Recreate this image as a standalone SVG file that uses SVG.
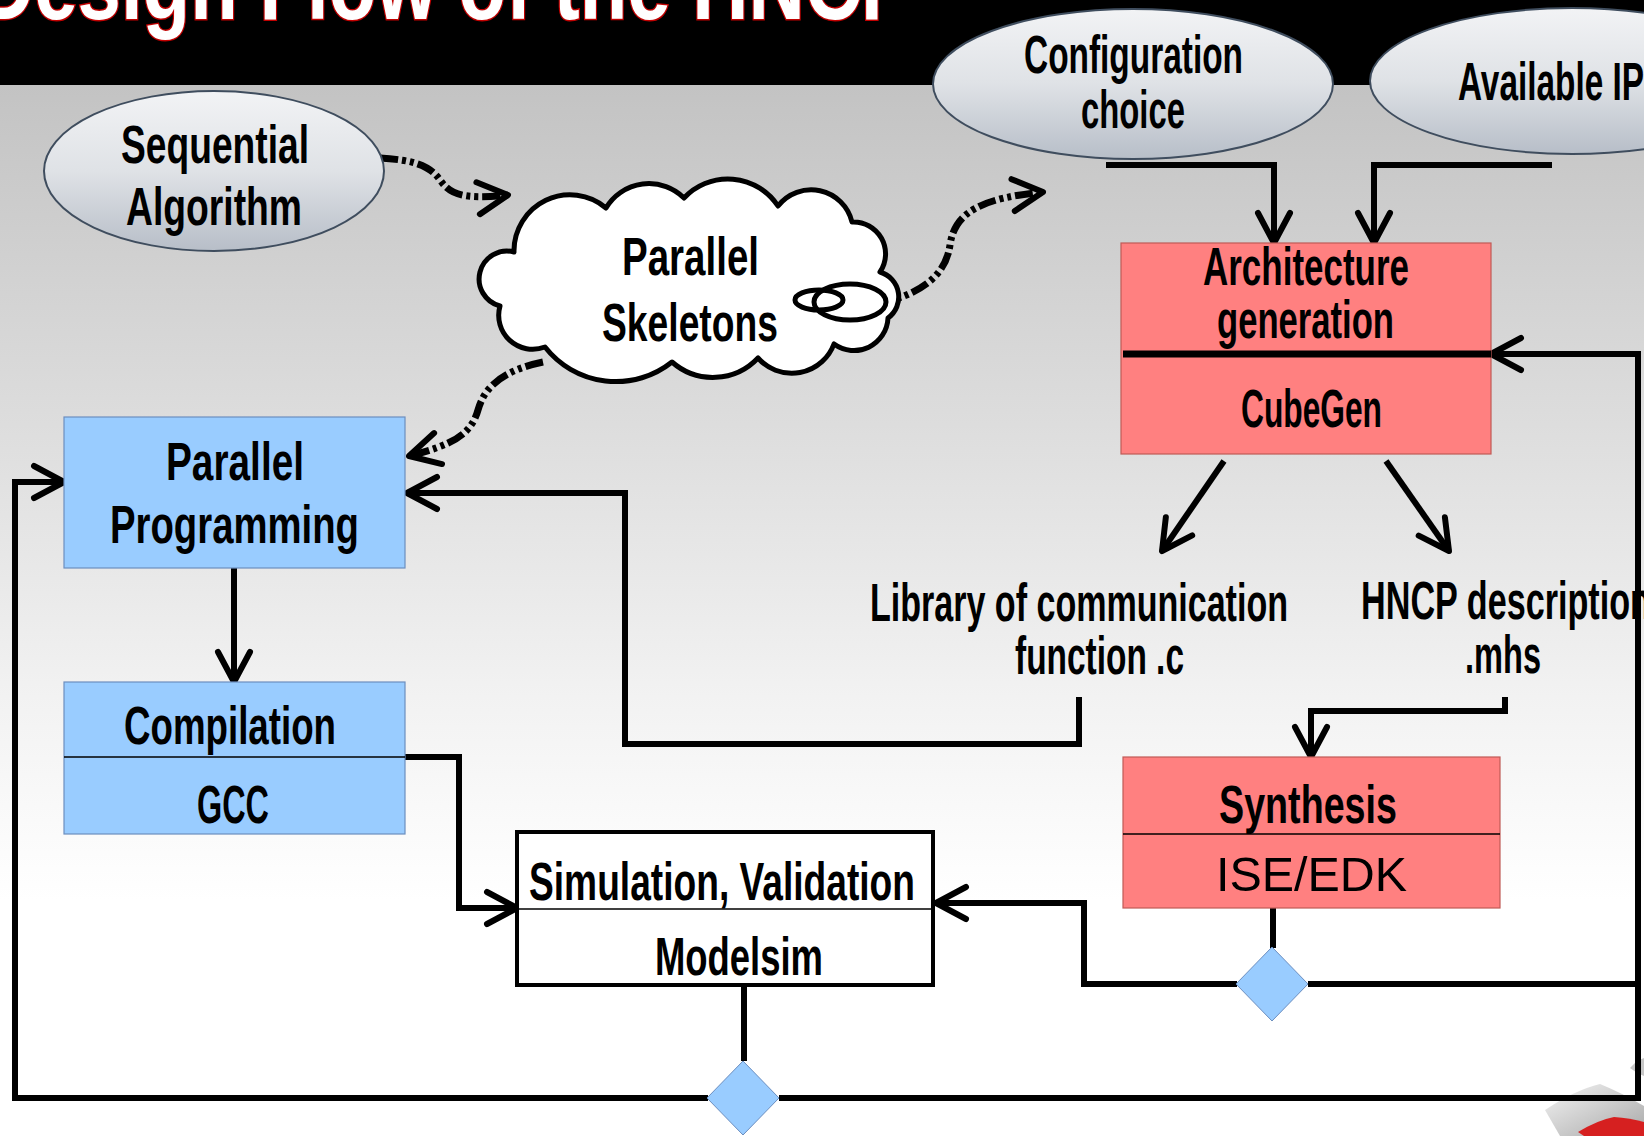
<svg xmlns="http://www.w3.org/2000/svg" width="1644" height="1136" viewBox="0 0 1644 1136">
  <defs>
    <linearGradient id="bg" gradientUnits="userSpaceOnUse" x1="0" y1="85" x2="0" y2="900">
      <stop offset="0" stop-color="#c3c3c3"/>
      <stop offset="0.4" stop-color="#dcdcdc"/>
      <stop offset="0.75" stop-color="#f2f2f2"/>
      <stop offset="1" stop-color="#ffffff"/>
    </linearGradient>
    <linearGradient id="oval" x1="0" y1="0" x2="0" y2="1">
      <stop offset="0" stop-color="#f2f3f5"/>
      <stop offset="0.5" stop-color="#dfe2e6"/>
      <stop offset="1" stop-color="#b7bec8"/>
    </linearGradient>
    <linearGradient id="fig" x1="0" y1="0" x2="1" y2="1">
      <stop offset="0" stop-color="#f4f4f4"/>
      <stop offset="1" stop-color="#a9a9a9"/>
    </linearGradient>
    <marker id="arr" markerUnits="userSpaceOnUse" markerWidth="60" markerHeight="60" viewBox="-40 -30 60 60" refX="0" refY="0" orient="auto" overflow="visible">
      <path d="M-30,-16 L0,0 L-30,16" fill="none" stroke="#000" stroke-width="6" stroke-linecap="round" stroke-linejoin="round"/>
    </marker>
  </defs>
  <style>
    .t { font-family: "Liberation Sans", Arial, sans-serif; font-weight: bold; font-size: 54px; fill: #000; }
    .r { font-family: "Liberation Sans", Arial, sans-serif; font-size: 48px; fill: #000; }
    .oval { fill: url(#oval); stroke: #3f4d5e; stroke-width: 2; }
    .blue { fill: #99ccff; stroke: #6c8ebf; stroke-width: 1.2; }
    .red { fill: #ff8080; stroke: #c05a56; stroke-width: 1.2; }
    .div { stroke: #000; stroke-width: 1.5; }
    .dia { fill: #99ccff; stroke: #6c8ebf; stroke-width: 1; }
    .ln { fill: none; stroke: #000; stroke-width: 6; stroke-linejoin: miter; }
    .ln-a { fill: none; stroke: #000; stroke-width: 6; stroke-linejoin: miter; marker-end: url(#arr); }
    .dash { fill: none; stroke: #000; stroke-width: 7; stroke-dasharray: 18 4 4 4 4 4; marker-end: url(#arr); }
  </style>

  <!-- page background and header band -->
  <rect x="0" y="0" width="1644" height="1136" fill="url(#bg)"/>
  <rect x="0" y="0" width="1644" height="85" fill="#000"/>
  <text x="-22" y="19" font-family="'Liberation Sans', Arial, sans-serif" font-weight="bold" font-size="100" fill="#fff" stroke="#c00000" stroke-width="3" paint-order="stroke" textLength="935" lengthAdjust="spacingAndGlyphs">Design Flow of the HNCP</text>

  <!-- corner ornament -->
  <g id="ornament">
    <path d="M1545,1110 Q1575,1090 1600,1084 Q1620,1092 1644,1106 L1644,1136 L1560,1136 Z" fill="url(#fig)"/>
    <path d="M1578,1132 Q1598,1120 1614,1117 Q1630,1118 1644,1122 L1644,1136 L1584,1136 Z" fill="#d62020"/>
    <path d="M1630,1068 Q1637,1060 1644,1058 L1644,1076 Q1636,1073 1630,1068 Z" fill="#c8c8c8"/>
  </g>

  <!-- connectors -->
  <g id="connectors">
    <path class="dash" d="M380,158 C415,160 430,166 440,180 S462,200 508,195"/>
    <path class="dash" d="M876,305 C915,295 945,280 950,245 S985,198 1043,192"/>
    <path class="dash" d="M543,362 C505,370 485,385 478,410 S452,445 409,456"/>

    <path class="ln-a" d="M1106,165 H1274 V243"/>
    <path class="ln-a" d="M1552,165 H1374 V243"/>
    <path class="ln-a" d="M1224,461 L1162,551"/>
    <path class="ln-a" d="M1386,461 L1449,551"/>
    <path class="ln-a" d="M1079,697 V744 H625 V493 H407"/>
    <path class="ln-a" d="M1505,697 V711 H1311 V757"/>
    <path class="ln-a" d="M405,757 H459 V908 H517"/>
    <path class="ln-a" d="M234,568 V682"/>
    <path class="ln" d="M1273,908 V948"/>
    <path class="ln-a" d="M1237,984 H1084 V903 H936"/>
    <path class="ln" d="M1308,984 H1638"/>
    <path class="ln-a" d="M779,1098 H1638 V354 H1491"/>
    <path class="ln" d="M744,985 V1061"/>
    <path class="ln-a" d="M708,1098 H15 V482 H64"/>
  </g>

  <!-- input ovals -->
  <g id="sequential">
    <ellipse class="oval" cx="214" cy="171" rx="170" ry="80"/>
    <text class="t" x="121" y="163" textLength="188" lengthAdjust="spacingAndGlyphs">Sequential</text>
    <text class="t" x="126" y="225" textLength="176" lengthAdjust="spacingAndGlyphs">Algorithm</text>
  </g>
  <g id="configuration">
    <ellipse class="oval" cx="1133" cy="84" rx="200" ry="75"/>
    <text class="t" x="1024" y="73" font-size="52" textLength="219" lengthAdjust="spacingAndGlyphs">Configuration</text>
    <text class="t" x="1081" y="128" font-size="52" textLength="104" lengthAdjust="spacingAndGlyphs">choice</text>
  </g>
  <g id="available-ip">
    <ellipse class="oval" cx="1572" cy="81" rx="202" ry="73"/>
    <text class="t" x="1458" y="100" font-size="52" textLength="186" lengthAdjust="spacingAndGlyphs">Available IP</text>
  </g>

  <!-- skeleton cloud -->
  <g id="skeletons">
    <path d="M514,252 A56,56 0 0 1 606,208 A50,50 0 0 1 684,198 A60,60 0 0 1 778,206 A42,42 0 0 1 852,222 A32,32 0 0 1 880,272 A26,26 0 0 1 888,318 A34,34 0 0 1 834,344 A45,45 0 0 1 758,358 A62,62 0 0 1 672,362 A90,90 0 0 1 545,347 A34,34 0 0 1 500,306 A20,20 0 0 1 514,252 Z" fill="#fff" stroke="#000" stroke-width="5" stroke-linejoin="round"/>
    <ellipse cx="819" cy="300" rx="24" ry="10" fill="none" stroke="#000" stroke-width="5"/>
    <ellipse cx="850" cy="302" rx="36" ry="18" fill="none" stroke="#000" stroke-width="5"/>
    <text class="t" x="622" y="275" textLength="137" lengthAdjust="spacingAndGlyphs">Parallel</text>
    <text class="t" x="602" y="341" textLength="176" lengthAdjust="spacingAndGlyphs">Skeletons</text>
  </g>

  <!-- software flow -->
  <g id="parallel-programming">
    <rect class="blue" x="64" y="417" width="341" height="151"/>
    <text class="t" x="166" y="480" textLength="138" lengthAdjust="spacingAndGlyphs">Parallel</text>
    <text class="t" x="110" y="543" textLength="249" lengthAdjust="spacingAndGlyphs">Programming</text>
  </g>
  <g id="compilation">
    <rect class="blue" x="64" y="682" width="341" height="152"/>
    <line class="div" x1="64" y1="757" x2="405" y2="757"/>
    <text class="t" x="124" y="744" textLength="212" lengthAdjust="spacingAndGlyphs">Compilation</text>
    <text class="t" x="197" y="823" textLength="72" lengthAdjust="spacingAndGlyphs">GCC</text>
  </g>

  <!-- hardware flow -->
  <g id="architecture">
    <rect class="red" x="1121" y="243" width="370" height="211"/>
    <text class="t" x="1203" y="285" textLength="206" lengthAdjust="spacingAndGlyphs">Architecture</text>
    <text class="t" x="1217" y="338" textLength="177" lengthAdjust="spacingAndGlyphs">generation</text>
    <line x1="1123" y1="354" x2="1491" y2="354" stroke="#000" stroke-width="7"/>
    <text class="t" x="1241" y="427" textLength="141" lengthAdjust="spacingAndGlyphs">CubeGen</text>
  </g>
  <g id="library">
    <text class="t" x="870" y="621" textLength="418" lengthAdjust="spacingAndGlyphs">Library of communication</text>
    <text class="t" x="1015" y="674" textLength="169" lengthAdjust="spacingAndGlyphs">function .c</text>
  </g>
  <g id="hncp-description">
    <text class="t" x="1361" y="619" textLength="290" lengthAdjust="spacingAndGlyphs">HNCP description</text>
    <text class="t" x="1465" y="673" textLength="76" lengthAdjust="spacingAndGlyphs">.mhs</text>
  </g>
  <g id="synthesis">
    <rect class="red" x="1123" y="757" width="377" height="151"/>
    <line class="div" x1="1123" y1="834" x2="1500" y2="834"/>
    <text class="t" x="1219" y="823" textLength="178" lengthAdjust="spacingAndGlyphs">Synthesis</text>
    <text class="r" x="1216" y="891" textLength="191" lengthAdjust="spacingAndGlyphs">ISE/EDK</text>
  </g>
  <g id="simulation">
    <rect x="517" y="832" width="416" height="153" fill="#fff" stroke="#000" stroke-width="4"/>
    <line class="div" x1="517" y1="909" x2="933" y2="909"/>
    <text class="t" x="529" y="900" textLength="386" lengthAdjust="spacingAndGlyphs">Simulation, Validation</text>
    <text class="t" x="655" y="975" textLength="168" lengthAdjust="spacingAndGlyphs">Modelsim</text>
  </g>

  <!-- decision points -->
  <g id="decision-synthesis">
    <polygon class="dia" points="1272,947 1308,984 1272,1021 1236,984"/>
  </g>
  <g id="decision-simulation">
    <polygon class="dia" points="743,1061 779,1098 743,1135 707,1098"/>
  </g>
</svg>
